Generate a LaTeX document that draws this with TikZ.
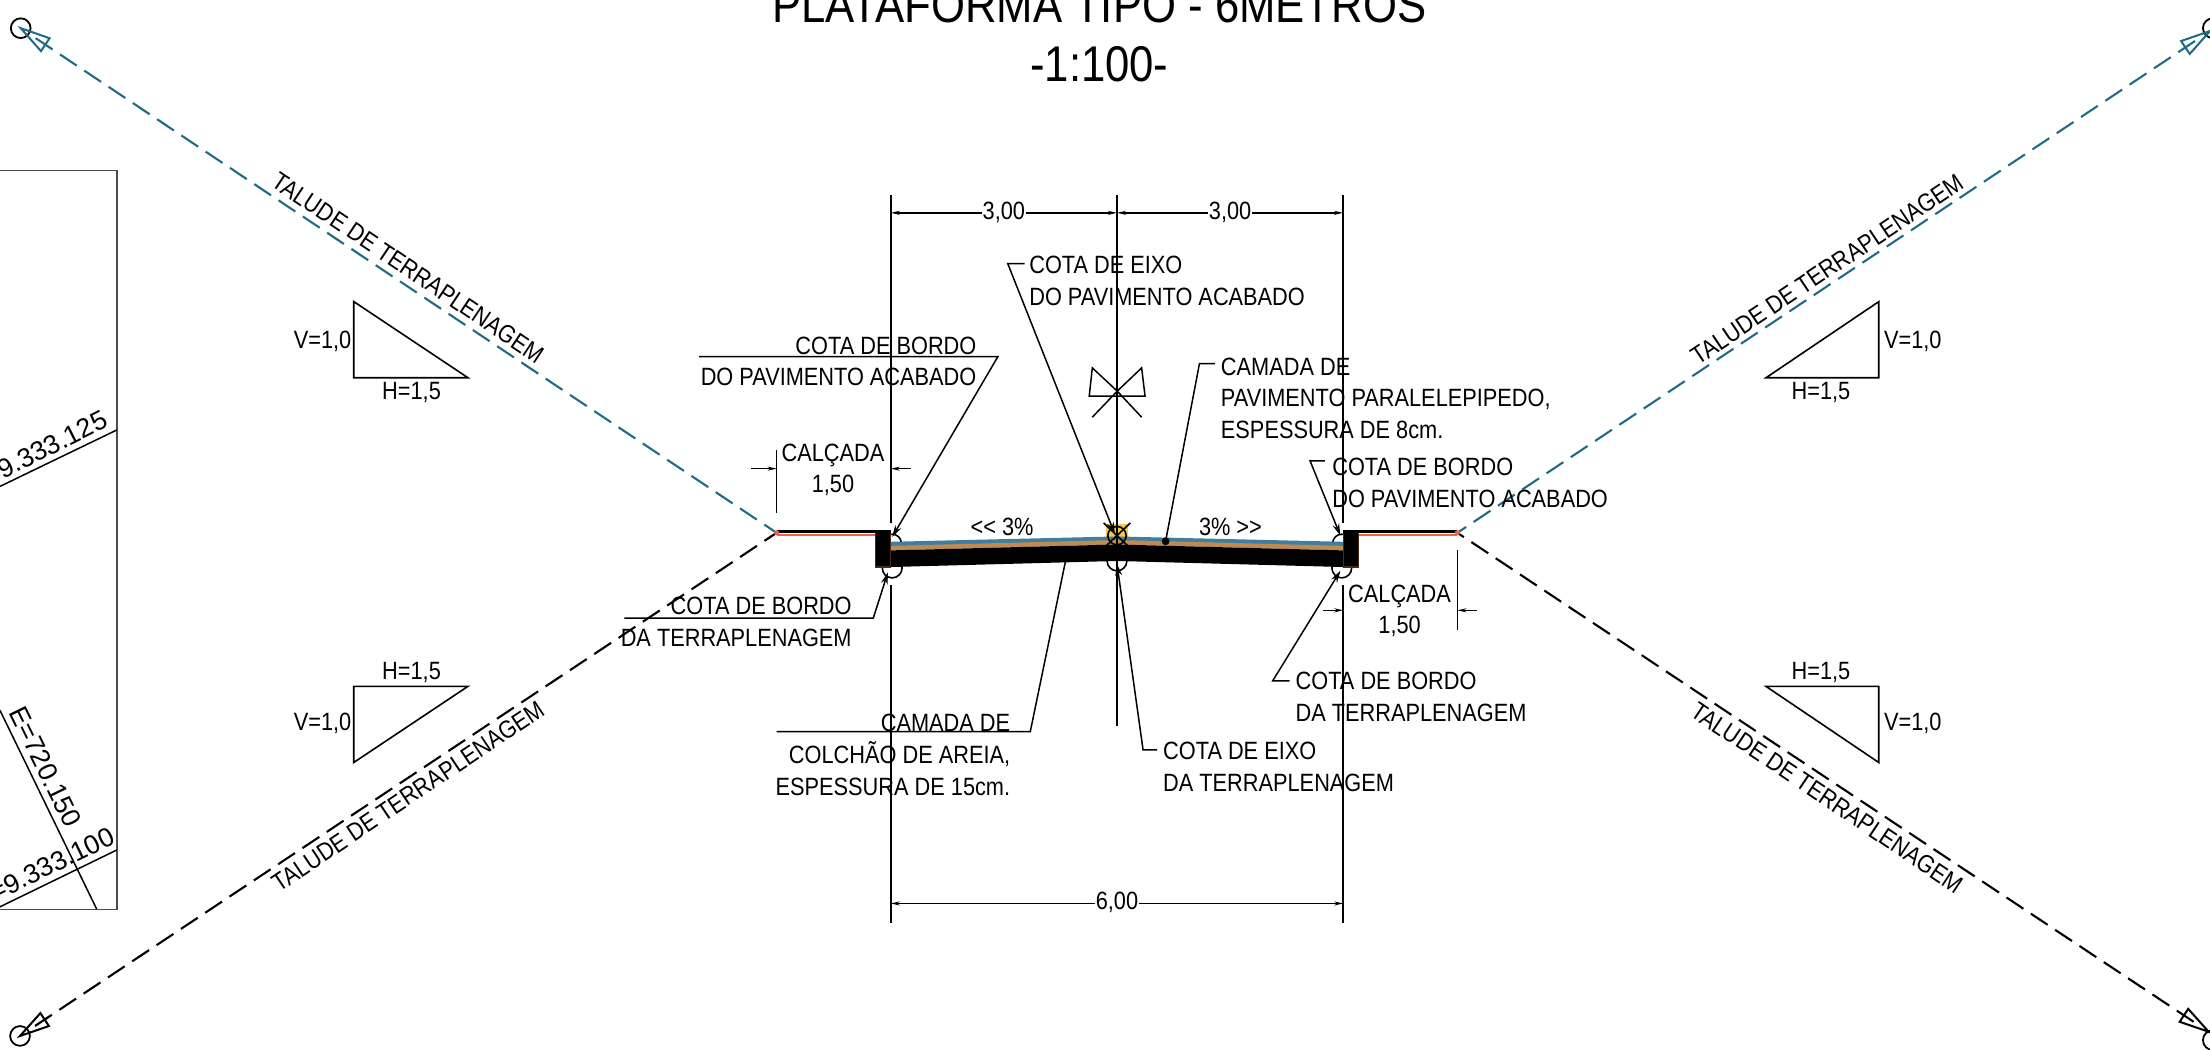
\documentclass[tikz,border=0pt]{standalone}
\usepackage{fontspec}
\usetikzlibrary{arrows.meta,calc}
\setmainfont{Liberation Sans}
\newfontfamily\nrw[FakeStretch=0.87]{Liberation Sans}
\definecolor{teal1}{HTML}{1F6A85}
\definecolor{blue1}{HTML}{3E7F9E}
\definecolor{orng1}{HTML}{C08A50}
\definecolor{red1}{HTML}{F0604A}
\definecolor{brown1}{HTML}{4A2A10}
\definecolor{yell1}{HTML}{F2C94C}
\tikzset{
  lbl/.style={inner sep=0pt,font=\nrw\fontsize{12.5}{15.9}\selectfont,execute at begin node=\strut},
  sl/.style={inner sep=0pt,font=\nrw\fontsize{12.5}{15.9}\selectfont},
  coord/.style={inner sep=0pt,font=\rmfamily\fontsize{13.4}{15}\selectfont},
  ttl/.style={inner sep=0pt,align=center,font=\nrw\fontsize{25.1}{29.6}\selectfont,execute at begin node=\strut},
  ln/.style={line width=.75pt,black},
  leader/.style={line width=.75pt,black,-{Stealth[length=6pt,width=3.4pt]}},
  dimline/.style={line width=.7pt,black,{Stealth[length=4.5pt,width=2pt]}-{Stealth[length=4.5pt,width=2pt]}},
  dimarrow/.style={line width=.7pt,black,-{Stealth[length=4.5pt,width=2pt]}},
  dimtxt/.style={lbl,fill=white,inner xsep=0.5pt,inner ysep=0pt},
  dashteal/.style={line width=1.05pt,teal1,dash pattern=on 10.1pt off 4.5pt},
  dashblk/.style={line width=1.05pt,black,dash pattern=on 10.1pt off 4.5pt},
  tri/.style={line width=.8pt,black,line join=miter},
  boxl/.style={line width=.55pt,black!70},
}
\newcommand\talhead[3]{% tip, angle, colour
  \draw[line width=1pt,#3,line join=miter,shift={(#1)},rotate=#2] (0,0) -- (21,5.5) -- (21,-5.5) -- cycle;
}
\begin{document}
\begin{tikzpicture}[x=.7047pt,y=-.7047pt]
\useasboundingbox (0,0) rectangle (1568,744.3);
\clip (0,0) rectangle (1568,744.3);

% ---- left plan fragment
\draw[boxl] (-5,121) -- (83,121) -- (83,645) -- (-5,645);
\draw[ln] (-5,347.5) -- (83,305);
\draw[ln] (-5,645.8) -- (83,603);
\draw[ln] (0,504) -- (68.6,645);
\node[coord,rotate=26.8,anchor=base east] (n1) at (78,302) {=9.333.125};
\node[coord,rotate=26,anchor=base east] (n2) at (83,598) {=9.333.100};
\node[coord,rotate=-64,anchor=base west] (e1) at (6,505) {E=720.150};

% ---- title
\node[ttl,anchor=north] (title) at (780,-9) {PLATAFORMA TIPO - 6METROS\\-1:100-};

% ---- slope lines
\coordinate (bl) at (551,378);
\coordinate (br) at (1034,378);
\coordinate (tul) at (14.7,20);
\coordinate (tll) at (14.2,735);
\coordinate (tur) at (1568,22);
\coordinate (tlr) at (1567,732);
\draw[line width=.9pt] (tul) circle[radius=7];
\draw[line width=.9pt] (tll) circle[radius=7];
\draw[line width=.9pt] (1570,20) circle[radius=7];
\draw[line width=.9pt] (1570,738) circle[radius=7];
\draw[dashteal] ($(tul)!9pt!(bl)$) -- (bl);
\draw[dashblk] ($(tll)!9pt!(bl)$) -- (bl);
\draw[dashteal] ($(tur)!9pt!(br)$) -- (br);
\draw[dashblk] ($(tlr)!9pt!(br)$) -- (br);
\talhead{tul}{-33.8}{teal1}
\talhead{tll}{33.6}{black}
\talhead{tur}{213.8}{teal1}
\talhead{tlr}{146.4}{black}
\node[sl,rotate=-33.8] (t1) at (289.7,190) {TALUDE DE TERRAPLENAGEM};
\node[sl,rotate=33.8] (t2) at (289.7,565) {TALUDE DE TERRAPLENAGEM};
\node[sl,rotate=33.8] (t3) at (1296.5,191) {TALUDE DE TERRAPLENAGEM};
\node[sl,rotate=-33.8] (t4) at (1296.5,566) {TALUDE DE TERRAPLENAGEM};

% ---- slope triangles
\draw[tri] (251,214) -- (251,268) -- (332,268) -- cycle;
\draw[tri] (251,541) -- (251,487) -- (332,487) -- cycle;
\draw[tri] (1333,214) -- (1333,268) -- (1253,268) -- cycle;
\draw[tri] (1333,541) -- (1333,487) -- (1253,487) -- cycle;
\node[lbl,anchor=north east] (v1) at (249.5,231.5) {V=1,0};
\node[lbl,anchor=north east] (v2) at (249.5,502.5) {V=1,0};
\node[lbl,anchor=north west] (v3) at (1336.5,231.5) {V=1,0};
\node[lbl,anchor=north west] (v4) at (1336.5,502.5) {V=1,0};
\node[lbl,anchor=north] (h1) at (292,267.5) {H=1,5};
\node[lbl,anchor=north] (h2) at (292,466) {H=1,5};
\node[lbl,anchor=north] (h3) at (1292,267.5) {H=1,5};
\node[lbl,anchor=north] (h4) at (1292,466) {H=1,5};

% ---- marker circles (behind the section)
\draw[line width=.8pt] (633,385.5) circle[radius=6.5];
\draw[line width=.8pt] (633,403) circle[radius=7];
\draw[line width=.8pt] (952,385.5) circle[radius=6.5];
\draw[line width=.8pt] (952,403) circle[radius=7];
\draw[line width=.8pt] (792.5,398) circle[radius=7];
\fill[yell1] (785,372) rectangle (800,381);

% ---- section
\fill[blue1] (632,384.4) -- (792.5,380.6) -- (953,384.4) -- (953,389.5) -- (792.5,385.3) -- (632,389.5) -- cycle;
\fill[orng1] (632,387.3) -- (792.5,383.1) -- (953,387.3) -- (953,390.5) -- (792.5,386.3) -- (632,390.5) -- cycle;
\fill[black] (632,390.5) -- (792.5,386.3) -- (953,390.5) -- (953,402.3) -- (792.5,398) -- (632,402.3) -- cycle;
\draw[line width=.6pt,brown1,fill=black] (621,377.5) rectangle (632,402.3);
\draw[line width=.6pt,brown1,fill=black] (953,377.5) rectangle (964,402.3);
\draw[line width=1.4pt,black] (551,377) -- (632,377);
\draw[line width=1.4pt,black] (953,377) -- (1034,377);
\draw[line width=.8pt,red1] (551,379.4) -- (621,379.4);
\draw[line width=.8pt,red1] (964,379.4) -- (1034,379.4);
\fill[red1] (bl) circle[radius=1.8];
\fill[red1] (br) circle[radius=1.8];
\draw[line width=.8pt] (792.5,380) circle[radius=6.5];
\draw[line width=.8pt] (783,371) -- (802,389) (802,371) -- (783,389);

% ---- vertical and extension lines
\draw[ln] (632,138) -- (632,371);
\draw[ln] (632,415) -- (632,655);
\draw[ln] (953,138) -- (953,371);
\draw[ln] (953,415) -- (953,655);
\draw[ln] (792.5,138) -- (792.5,515);
\draw[ln] (551,319) -- (551,364);
\draw[ln] (1034,390) -- (1034,447);

% ---- dimensions
\coordinate (d1) at (632,151);
\coordinate (d2) at (792.5,151);
\coordinate (d3) at (953,151);
\coordinate (d4) at (632,641);
\coordinate (d5) at (953,641);
\draw[dimline] (d1) -- node[dimtxt,pos=.5] (d3a) {3,00} (d2);
\draw[dimline] (d2) -- node[dimtxt,pos=.5] (d3b) {3,00} (d3);
\draw[dimline] (d4) -- node[dimtxt,pos=.5] (d6) {6,00} (d5);
\coordinate (ca1) at (533,332.5);
\coordinate (ca2) at (551,332.5);
\coordinate (ca3) at (646,332.5);
\coordinate (ca4) at (632,332.5);
\draw[dimarrow] (ca1) -- (ca2);
\draw[dimarrow] (ca3) -- (ca4);
\coordinate (cb1) at (939,433);
\coordinate (cb2) at (953,433);
\coordinate (cb3) at (1048,433);
\coordinate (cb4) at (1034,433);
\draw[dimarrow] (cb1) -- (cb2);
\draw[dimarrow] (cb3) -- (cb4);
\node[lbl,anchor=north,align=center] (calA) at (591,314.5) {CALÇADA\\1,50};
\node[lbl,anchor=north,align=center] (calB) at (993,414.5) {CALÇADA\\1,50};
\node[lbl,anchor=north] (s1) at (711,363.5) {<{}< 3\%};
\node[lbl,anchor=north] (s2) at (873,363.5) {3\% >{}>};

% ---- centreline symbol
\coordinate (cs) at (792.7,277.5);
\draw[line width=.75pt,line join=miter] (810,296) -- (cs) -- (775,261) -- (772.8,281) -- (812.4,281) -- (810,261) -- (cs) -- (775,296);

% ---- labels and leaders
\node[lbl,anchor=north east,align=right] (cbpL) at (693,238.5) {COTA DE BORDO\\DO PAVIMENTO ACABADO};
\coordinate (e1a) at (496,253); \coordinate (e1b) at (708,253); \coordinate (e1c) at (633,381);
\draw[leader] (e1a) -- (e1b) -- (e1c);

\node[lbl,anchor=north west,align=left] (cep) at (730,181.5) {COTA DE EIXO\\DO PAVIMENTO ACABADO};
\coordinate (e2a) at (727,187); \coordinate (e2b) at (715,187); \coordinate (e2c) at (791,379);
\draw[leader] (e2a) -- (e2b) -- (e2c);

\node[lbl,anchor=north west,align=left] (cpp) at (866,253.5) {CAMADA DE\\PAVIMENTO PARALELEPIPEDO,\\ESPESSURA DE 8cm.};
\coordinate (e3a) at (862,258); \coordinate (e3b) at (851,258); \coordinate (e3c) at (827,384);
\draw[ln] (e3a) -- (e3b) -- (e3c);
\fill (e3c) circle[radius=2.8];

\node[lbl,anchor=north west,align=left] (cbpR) at (945,324.5) {COTA DE BORDO\\DO PAVIMENTO ACABADO};
\coordinate (e4a) at (940,327); \coordinate (e4b) at (929.5,327); \coordinate (e4c) at (951,380);
\draw[leader] (e4a) -- (e4b) -- (e4c);

\node[lbl,anchor=north east,align=right] (cbtL) at (604.5,423.5) {COTA DE BORDO\\DA TERRAPLENAGEM};
\coordinate (e5a) at (443,438.5); \coordinate (e5b) at (619.6,438.5); \coordinate (e5c) at (630,406);
\draw[leader] (e5a) -- (e5b) -- (e5c);

\node[lbl,anchor=north west,align=left] (cbtR) at (919,476.5) {COTA DE BORDO\\DA TERRAPLENAGEM};
\coordinate (e6a) at (915,483); \coordinate (e6b) at (903,483); \coordinate (e6c) at (951,405);
\draw[leader] (e6a) -- (e6b) -- (e6c);

\node[lbl,anchor=north west,align=left] (cet) at (825,526.5) {COTA DE EIXO\\DA TERRAPLENAGEM};
\coordinate (e7a) at (821,532); \coordinate (e7b) at (811,532); \coordinate (e7c) at (792.5,400);
\draw[leader] (e7a) -- (e7b) -- (e7c);

\node[lbl,anchor=north east,align=right] (cca) at (717,506.5) {CAMADA DE\\COLCHÃO DE AREIA,\\ESPESSURA DE 15cm.};
\coordinate (e8a) at (551,519); \coordinate (e8b) at (731,519); \coordinate (e8c) at (756,398);
\draw[ln] (e8a) -- (e8b) -- (e8c);
\end{tikzpicture}
\end{document}
